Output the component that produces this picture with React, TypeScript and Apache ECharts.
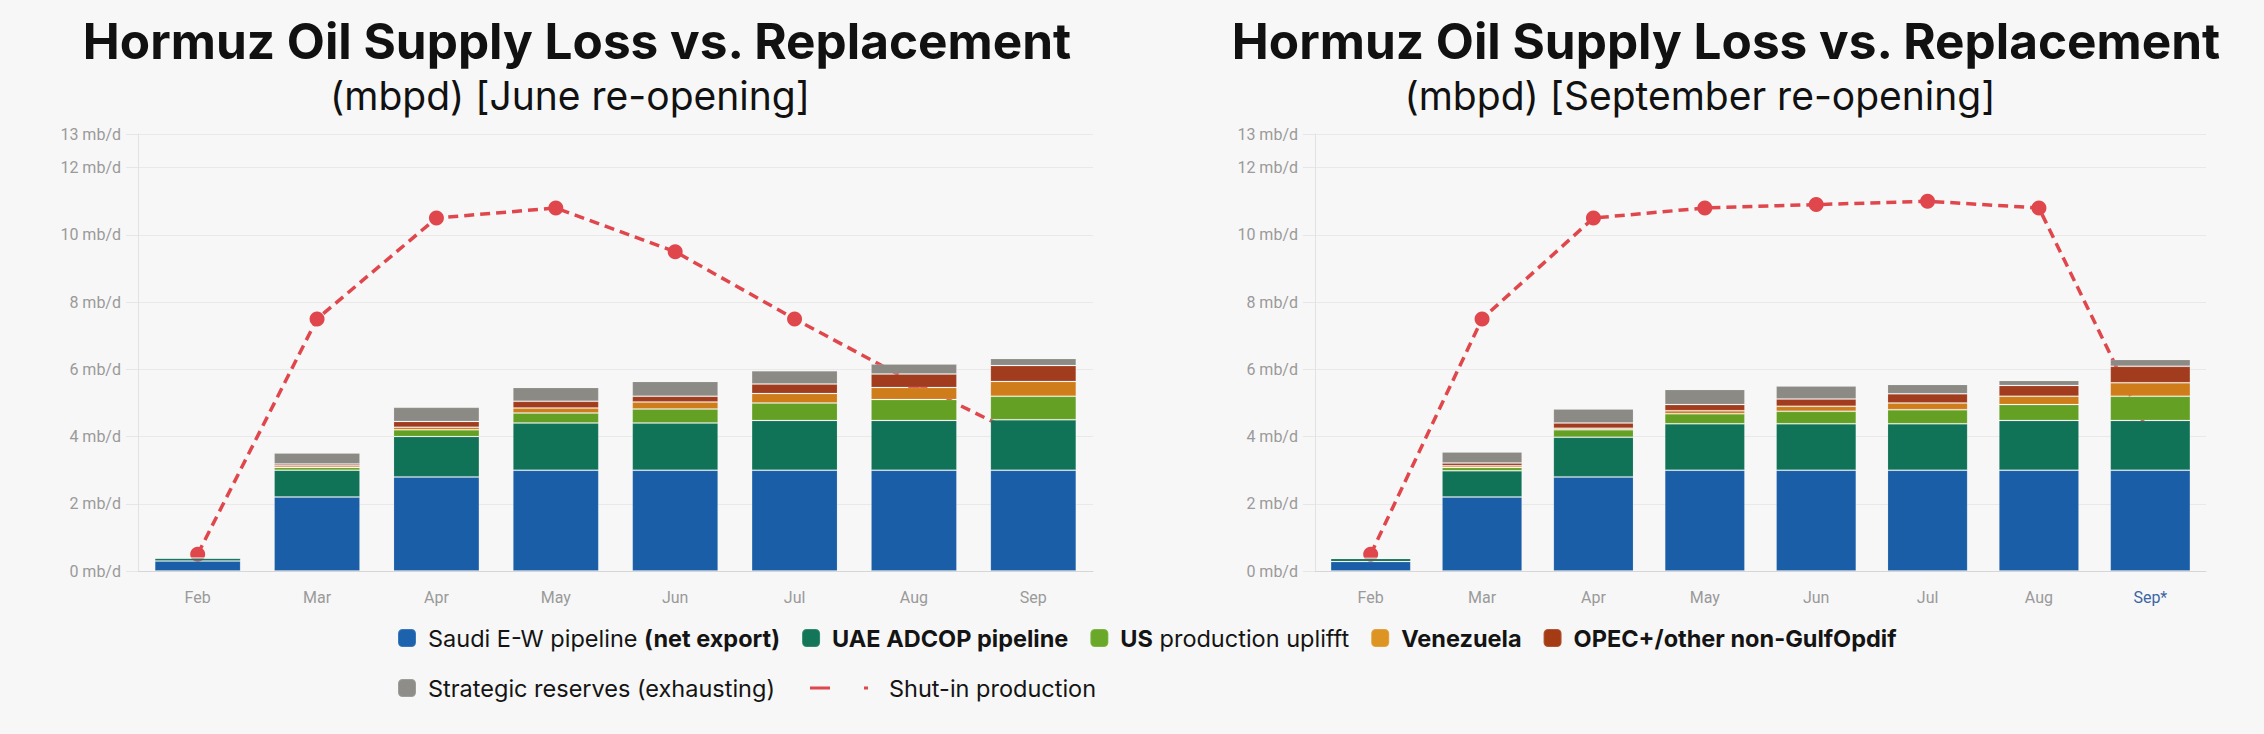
import React, { useEffect, useRef } from "react";
import * as echarts from "echarts";

const categoriesJune = ["Feb", "Mar", "Apr", "May", "Jun", "Jul", "Aug", "Sep"];
const categoriesSep = ["Feb", "Mar", "Apr", "May", "Jun", "Jul", "Aug", "Sep*"];
const yTicks = [0, 2, 4, 6, 8, 10, 12, 13];

// June re-opening scenario (mb/d)
const saudiJune = [0.3, 2.2, 2.8, 3.0, 3.0, 3.0, 3.0, 3.0];
const uaeJune = [0.08, 0.8, 1.2, 1.4, 1.4, 1.48, 1.48, 1.5];
const usJune = [0.01, 0.08, 0.2, 0.3, 0.42, 0.52, 0.62, 0.7];
const venJune = [0, 0.05, 0.08, 0.15, 0.21, 0.28, 0.36, 0.44];
const opecJune = [0, 0.05, 0.17, 0.2, 0.17, 0.28, 0.4, 0.47];
const sprJune = [0.01, 0.33, 0.42, 0.41, 0.44, 0.4, 0.3, 0.21];
const shutJune = [0.5, 7.5, 10.5, 10.8, 9.5, 7.5, 5.6, 3.85];

// September re-opening scenario (mb/d)
const saudiSep = [0.28, 2.2, 2.8, 3.0, 3.0, 3.0, 3.0, 3.0];
const uaeSep = [0.09, 0.78, 1.18, 1.38, 1.38, 1.38, 1.48, 1.48];
const usSep = [0.01, 0.1, 0.22, 0.3, 0.37, 0.42, 0.47, 0.72];
const venSep = [0, 0.05, 0.05, 0.09, 0.15, 0.2, 0.25, 0.4];
const opecSep = [0, 0.08, 0.15, 0.18, 0.22, 0.27, 0.32, 0.49];
const sprSep = [0.02, 0.33, 0.42, 0.45, 0.38, 0.28, 0.15, 0.2];
const shutSep = [0.5, 7.5, 10.5, 10.8, 10.9, 11.0, 10.8, 4.0];

const seriesNames = [
  "Saudi E-W pipeline (net export)",
  "UAE ADCOP pipeline",
  "US production uplifft",
  "Venezuela",
  "OPEC+/other non-GulfOpdif",
  "Strategic reserves (exhausting)",
];
const lineName = "Shut-in production";
const barColors = ["#1a5ea7", "#107256", "#64a024", "#cf7c1a", "#a13c1e", "#8b8a84"];
const legendColors = ["#1c62ad", "#137659", "#6aa82a", "#de9423", "#a53b14", "#8e8d88"];
const lineColor = "#e0474c";

const legendLabels: Record<string, string> = {
  "Saudi E-W pipeline (net export)": "Saudi E-W pipeline {b|(net export)}",
  "UAE ADCOP pipeline": "{b|UAE ADCOP pipeline}",
  "US production uplifft": "{b|US} production uplifft",
  Venezuela: "{b|Venezuela}",
  "OPEC+/other non-GulfOpdif": "{b|OPEC+/other non-GulfOpdif}",
  "Strategic reserves (exhausting)": "Strategic reserves (exhausting)",
  "Shut-in production": "Shut-in production",
};

export default function App() {
  const ref = useRef<HTMLDivElement>(null);

  useEffect(() => {
    document.body.style.margin = "0";
    document.body.style.background = "#f7f7f7";
    if (!ref.current) return;
    const chart = echarts.init(ref.current, undefined, { renderer: "svg" });

    const juneData = [saudiJune, uaeJune, usJune, venJune, opecJune, sprJune];
    const sepData = [saudiSep, uaeSep, usSep, venSep, opecSep, sprSep];

    const makeBars = (data: number[][], idx: number) =>
      data.map((d, i) => ({
        name: seriesNames[i],
        type: "bar",
        stack: "s" + idx,
        xAxisIndex: idx,
        yAxisIndex: idx,
        barCategoryGap: "28%",
        data: d,
        z: 3,
        itemStyle: {
          color: barColors[i],
          borderColor: "rgba(255,255,255,0.14)",
          borderWidth: 1,
        },
      }));

    const makeLine = (d: number[], idx: number) => ({
      name: lineName,
      type: "line",
      xAxisIndex: idx,
      yAxisIndex: idx,
      data: d,
      z: 1,
      symbol: "circle",
      symbolSize: 15,
      itemStyle: { color: lineColor },
      lineStyle: { color: lineColor, width: 3.5, type: [10, 6] },
    });

    const yAxisCfg = (idx: number) => ({
      type: "value",
      gridIndex: idx,
      min: 0,
      max: 13,
      interval: 2,
      axisLine: { show: true, lineStyle: { color: "#e2e2e2", width: 1 } },
      axisTick: { show: true, length: 12, lineStyle: { color: "#e6e6e6" } },
      splitLine: { show: true, lineStyle: { color: "#e9e9e9" } },
      axisLabel: {
        formatter: (v: number) => (yTicks.includes(v) ? v + " mb/d" : ""),
        color: "#9a9a9a",
        fontSize: 16,
        fontFamily: "Roboto",
        margin: 17,
      },
    });

    const xAxisCfg = (idx: number, cats: string[]) => ({
      type: "category",
      gridIndex: idx,
      data: cats,
      axisLine: { show: true, lineStyle: { color: "#d6d6d6" } },
      axisTick: { show: false },
      axisLabel: {
        color: (v: string) => (v === "Sep*" ? "#3c65a5" : "#9a9a9a"),
        fontSize: 16,
        fontFamily: "Roboto",
        margin: 18,
      },
    });

    const legendText = {
      fontSize: 23.5,
      fontFamily: "Inter",
      color: "#141414",
      padding: [0, 0, 0, 7],
      rich: {
        b: { fontSize: 23.5, fontFamily: "Inter", fontWeight: 700, color: "#141414" },
      },
    };

    const titleFont = { fontFamily: "Inter", fill: "#111111" };

    const titleText = (x: number, text: string) => ({
      type: "text",
      x,
      y: 41,
      style: {
        ...titleFont,
        text,
        fontSize: 49.5,
        fontWeight: 700,
        align: "center",
        verticalAlign: "middle",
      },
    });

    const subText = (x: number, text: string) => ({
      type: "text",
      x,
      y: 95,
      style: {
        ...titleFont,
        text,
        fontSize: 39,
        fontWeight: 400,
        align: "center",
        verticalAlign: "middle",
      },
    });

    chart.setOption({
      animation: false,
      backgroundColor: "#f7f7f7",
      grid: [
        { left: 138, right: 1171, top: 134, bottom: 163 },
        { left: 1315, right: 58, top: 134, bottom: 163 },
      ],
      xAxis: [xAxisCfg(0, categoriesJune), xAxisCfg(1, categoriesSep)],
      yAxis: [yAxisCfg(0), yAxisCfg(1)],
      legend: [
        {
          data: seriesNames.slice(0, 5).map((n, i) => ({
            name: n,
            itemStyle: { color: legendColors[i] },
          })),
          left: 392,
          top: 621,
          orient: "horizontal",
          icon: "roundRect",
          itemWidth: 18,
          itemHeight: 18,
          itemGap: 21,
          formatter: (n: string) => legendLabels[n],
          textStyle: legendText,
        },
        {
          data: [{ name: seriesNames[5], itemStyle: { color: legendColors[5] } }],
          left: 392,
          top: 671,
          icon: "roundRect",
          itemWidth: 18,
          itemHeight: 18,
          formatter: (n: string) => legendLabels[n],
          textStyle: legendText,
        },
        {
          data: [
            {
              name: lineName,
              icon: "path://M0,0H20V3H0Z M54,0H58V3H54Z",
              itemStyle: { color: lineColor },
            },
          ],
          left: 805,
          top: 671,
          itemWidth: 58,
          itemHeight: 18,
          formatter: (n: string) => legendLabels[n],
          textStyle: { ...legendText, padding: [0, 0, 0, 16] },
        },
      ],
      graphic: [
        titleText(577, "Hormuz Oil Supply Loss vs. Replacement"),
        subText(570, "(mbpd) [June re-opening]"),
        titleText(1726, "Hormuz Oil Supply Loss vs. Replacement"),
        subText(1700, "(mbpd) [September re-opening]"),
      ],
      series: [
        ...makeBars(juneData, 0),
        makeLine(shutJune, 0),
        ...makeBars(sepData, 1),
        makeLine(shutSep, 1),
      ],
    });

    return () => chart.dispose();
  }, []);

  return <div ref={ref} style={{ width: 2264, height: 734 }} />;
}
